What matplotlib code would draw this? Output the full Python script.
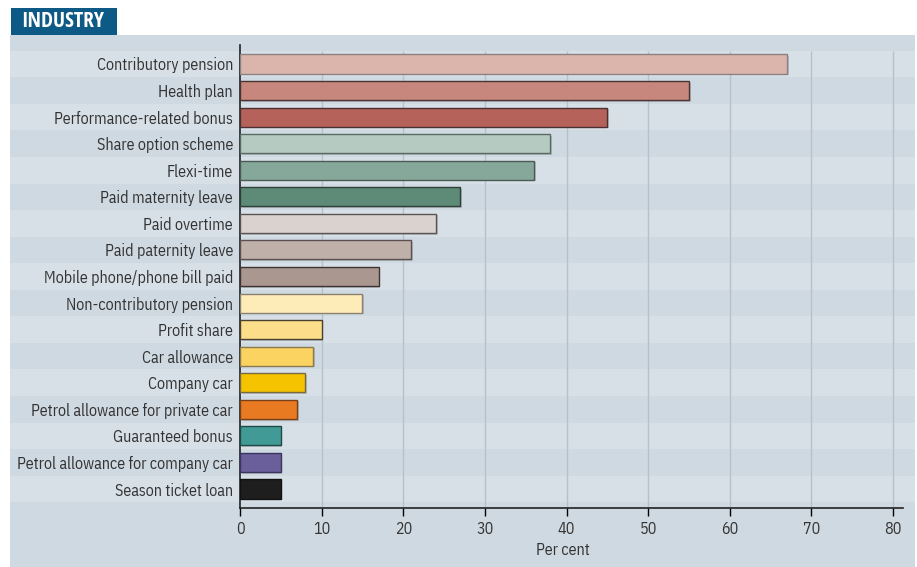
import matplotlib
matplotlib.use("Agg")
import matplotlib.pyplot as plt
from matplotlib.patches import Rectangle
from matplotlib.transforms import blended_transform_factory
from matplotlib import font_manager
import matplotlib.patheffects as pe
import numpy as np

categories = [
    "Contributory pension", "Health plan", "Performance-related bonus",
    "Share option scheme", "Flexi-time", "Paid maternity leave",
    "Paid overtime", "Paid paternity leave", "Mobile phone/phone bill paid",
    "Non-contributory pension", "Profit share", "Car allowance",
    "Company car", "Petrol allowance for private car", "Guaranteed bonus",
    "Petrol allowance for company car", "Season ticket loan",
]
values = [67, 55, 45, 38, 36, 27, 24, 21, 17, 15, 10, 9, 8, 7, 5, 5, 5]
colors = [
    "#dbb5ab", "#c8877d", "#b5625a", "#b5cbc2", "#86a89a", "#5e8a78",
    "#d9d2cf", "#c0b0aa", "#a99790", "#fdebb8", "#fcdd8a", "#fbd360",
    "#f6c300", "#e87a22", "#419a95", "#6a5e9b", "#1f1e1f",
]
edges = [
    "#8a8282", "#4a3535", "#4a3030", "#5a6a64", "#4a5a54", "#2e3e38",
    "#5a5454", "#5a5050", "#3e3434", "#8a8270", "#4a4030", "#8a7a50",
    "#7a6a40", "#7a4018", "#1e4a48", "#3a3460", "#111111",
]
xticks = [0, 10, 20, 30, 40, 50, 60, 70, 80]

available = {f.name for f in font_manager.fontManager.ttflist}
family = "IBM Plex Sans Condensed" if "IBM Plex Sans Condensed" in available else "DejaVu Sans"
title_family = "Open Sans Condensed" if "Open Sans Condensed" in available else family
plt.rcParams["font.family"] = [family, "DejaVu Sans"]

W, H = 917, 567
fig = plt.figure(figsize=(W / 100, H / 100), dpi=100)
fig.patch.set_facecolor("white")

panel_bg = "#cfd9e1"
stripe = "#d7e0e7"
text_col = "#333333"
fs = 11.5

# panel background
fig.add_artist(Rectangle((10 / W, 0), (915 - 10) / W, 1 - 35 / H,
                         transform=fig.transFigure, facecolor=panel_bg,
                         edgecolor="none", zorder=0))
# title tab
fig.add_artist(Rectangle((11 / W, 1 - 35 / H), (117 - 11) / W, 27 / H,
                         transform=fig.transFigure, facecolor="#0e5a87",
                         edgecolor="none", zorder=1))
fig.text(63 / W, 1 - 21.5 / H, "INDUSTRY", color="white", fontsize=15.5,
         fontweight="bold", va="center", ha="center",
         family=[title_family, "DejaVu Sans"])

left, right = 240, 903
top, bottom = 45, 508
ax = fig.add_axes([left / W, 1 - bottom / H, (right - left) / W, (bottom - top) / H])
ax.set_facecolor("none")

n = len(categories)
y = np.arange(n)
ax.set_xlim(0, 80 * (right - left) / (893 - left))
ax.set_ylim(n - 1 + 0.715, -0.715)

# alternating row stripes across the whole panel width
tr = blended_transform_factory(fig.transFigure, ax.transData)
for i in range(0, n, 2):
    ax.add_patch(Rectangle((10 / W, i - 0.5), (915 - 10) / W, 1.0, transform=tr,
                           facecolor=stripe, edgecolor="none", zorder=0,
                           clip_on=False))

for xt in xticks[1:]:
    ax.plot([xt, xt], [n - 1 + 0.715, -0.5], color="#b8c1c9", lw=1.0,
            zorder=1, solid_capstyle="butt")

bars = ax.barh(y, values, height=0.72, color=colors, edgecolor=edges,
               linewidth=1.0, zorder=3)
for b in bars:
    b.set_path_effects([pe.SimplePatchShadow(offset=(1.2, -1.2), alpha=0.25,
                                             shadow_rgbFace="#555555"),
                        pe.Normal()])

ax.set_yticks(y)
ax.set_yticklabels(categories, fontsize=fs, color=text_col)
ax.set_xticks(xticks)
ax.set_xticklabels([str(t) for t in xticks], fontsize=fs, color=text_col)
ax.tick_params(axis="y", length=0, pad=5)
ax.tick_params(axis="x", length=6, width=1, pad=3)
for t in ax.get_xticklines():
    t.set_color("#999999")

for s in ["top", "right"]:
    ax.spines[s].set_visible(False)
ax.spines["left"].set_color("#222222")
ax.spines["bottom"].set_color("#222222")
ax.spines["left"].set_linewidth(1.2)
ax.spines["bottom"].set_linewidth(1.2)

fig.text(563 / W, 1 - 550 / H, "Per cent",
         fontsize=fs, color=text_col, ha="center", va="center")

fig.savefig("out.png", dpi=100, facecolor=fig.get_facecolor())
